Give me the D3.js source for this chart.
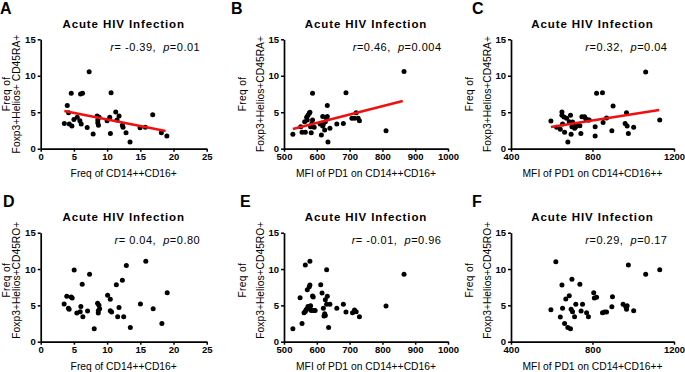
<!DOCTYPE html>
<html>
<head>
<meta charset="utf-8">
<script src="https://cdn.jsdelivr.net/npm/d3@7"></script>
<style>
  body { margin: 0; background: #fff; }
  svg { display: block; font-family: "Liberation Sans", Arial, sans-serif; }
</style>
</head>
<body>
<div id="chart"></div>
<script>
// values, [x, y]
const pointsA = [[3.56,3.47],[4.0,5.94],[4.2,4.94],[4.3,3.38],[4.6,7.6],[4.7,3.1],[5.0,4.0],[5.5,4.3],[5.9,3.84],[6.0,7.5],[6.3,7.6],[6.1,3.38],[7.0,2.9],[7.3,10.56],[7.9,2.0],[8.5,4.48],[8.6,3.93],[8.6,3.57],[8.7,3.2],[8.8,4.3],[10.0,3.84],[10.4,4.3],[10.5,2.1],[10.6,7.68],[11.3,5.03],[11.5,3.93],[11.8,4.48],[12.3,3.2],[12.4,2.93],[12.85,2.2],[13.45,0.91],[14.96,2.88],[15.76,2.93],[16.87,4.66],[18.17,2.19],[19.0,1.74]];
const pointsB = [[527,1.97],[551,3.0],[555,2.24],[565,2.24],[563,3.7],[569,4.3],[573,4.6],[577,4.85],[579,5.0],[571,3.93],[581,3.0],[583,2.2],[585,3.47],[587,3.93],[587,7.6],[592,2.93],[610,3.38],[614,1.87],[618,4.4],[618,3.1],[620,3.38],[624,2.56],[626,3.7],[630,4.16],[632,5.94],[632,4.4],[634,0.91],[640,2.79],[661,3.38],[681,3.47],[689,7.68],[707,4.16],[715,4.16],[720,4.94],[726,4.16],[730,3.84],[811,2.47],[866,10.6]];
const pointsC = [[596,3.8],[624,2.93],[642,2.65],[650,5.03],[650,4.57],[653,3.38],[660,4.34],[663,2.24],[673,4.16],[679,0.91],[686,3.7],[692,4.6],[695,1.97],[699,3.0],[702,3.66],[709,3.38],[712,2.79],[718,3.0],[722,3.25],[738,3.16],[743,2.1],[748,4.39],[761,4.39],[767,4.12],[778,3.93],[784,3.93],[813,1.74],[813,3.0],[820,7.6],[849,7.68],[852,3.6],[869,4.2],[895,2.47],[901,5.85],[960,3.47],[967,4.94],[970,3.1],[976,2.1],[1002,2.93],[1061,10.5],[1130,3.93]];
const pointsD = [[3.53,5.18],[3.93,6.24],[4.18,4.59],[4.28,4.45],[4.59,6.15],[4.74,6.0],[5.04,9.86],[5.44,3.94],[5.95,4.13],[6.05,4.86],[6.25,7.89],[6.35,3.44],[7.06,4.22],[7.36,9.27],[8.06,1.79],[8.57,5.28],[8.67,4.27],[8.67,3.94],[8.77,5.0],[8.87,4.54],[10.08,6.38],[10.48,5.83],[10.48,4.27],[10.68,4.08],[11.39,7.84],[11.59,3.44],[11.79,4.72],[12.3,8.44],[12.5,3.44],[12.9,10.5],[13.5,1.97],[15.02,5.18],[15.83,11.06],[16.94,4.54],[18.25,2.52],[19.05,6.74]];
const pointsE = [[527,1.79],[549,6.06],[555,2.52],[561,3.99],[565,4.17],[567,4.36],[569,4.45],[573,4.86],[577,4.59],[579,4.86],[571,7.16],[565,10.55],[579,11.06],[577,7.57],[579,7.8],[581,4.95],[583,4.31],[589,4.31],[595,4.31],[587,6.29],[589,6.15],[612,7.84],[616,6.7],[620,4.59],[622,3.53],[624,3.85],[626,3.62],[626,5.78],[632,6.24],[630,5.14],[630,9.9],[636,1.97],[640,5.14],[661,4.59],[681,5.14],[689,4.08],[709,3.99],[715,4.36],[720,4.13],[730,3.44],[811,4.91],[866,9.27]];
const pointsF = [[596,4.4],[620,11.0],[642,3.39],[650,7.8],[653,4.59],[663,2.52],[669,5.87],[679,1.97],[686,6.33],[692,1.79],[695,4.45],[699,8.58],[702,4.13],[712,3.44],[718,5.14],[738,7.89],[744,4.22],[751,5.14],[771,3.99],[780,3.44],[806,6.74],[809,6.0],[820,6.1],[849,3.99],[859,4.08],[869,4.08],[895,4.82],[898,6.2],[950,5.14],[963,4.86],[967,4.45],[970,4.95],[1002,4.27],[976,10.55],[1061,9.27],[1130,9.9]];

// regression lines (end points)
const fitA = [[3.56,5.17],[18.8,2.42]];
const fitB = [[527,2.7],[862,6.54]];
const fitC = [[596,2.97],[1127,5.3]];

const statsLabels = {
  A: ["r", "= -0.39,  ", "p", "=0.01"],
  B: ["r", "=0.46,  ", "p", "=0.004"],
  C: ["r", "=0.32,  ", "p", "=0.04"],
  D: ["r", "= 0.04,  ", "p", "=0.80"],
  E: ["r", "= -0.01,  ", "p", "=0.96"],
  F: ["r", "=0.29,  ", "p", "=0.17"]
};

const title = "Acute HIV Infection";
const freqTicks = [0, 5, 10, 15, 20, 25];
const mfiTicksB = [500, 600, 700, 800, 900, 1000];
const mfiTicksC = [400, 800, 1200];
const yTicks = [0, 5, 10, 15];
const xTitles = ["Freq of CD14++CD16+", "MFI of PD1 on CD14++CD16+", "MFI of PD1 on CD14+CD16++"];
const yTitleRA = ["Freq of", "Foxp3+Helios+ CD45RA+", "Foxp3+Helios+CD45RA+"];
const yTitleRO = ["Freq of", "Foxp3+Helios+CD45RO+"];

const width = 685, height = 372;
const svg = d3.select("#chart").append("svg")
  .attr("width", width)
  .attr("height", height);

// plot boxes per row / column
const rows = [{ top: 39.3, bottom: 148.7 }, { top: 232.7, bottom: 341.7 }];
const cols = [{ left: 40.7, right: 206.7 }, { left: 284, right: 448 }, { left: 511, right: 674 }];

const panels = [
  { id: "A", row: 0, col: 0, pts: pointsA, fit: fitA, xDom: [0, 25], xTicks: freqTicks, xTitle: xTitles[0], yTitle: [yTitleRA[0], yTitleRA[1]], gap: 31, lx: 0 },
  { id: "B", row: 0, col: 1, pts: pointsB, fit: fitB, xDom: [500, 1000], xTicks: mfiTicksB, xTitle: xTitles[1], yTitle: [yTitleRA[0], yTitleRA[2]], gap: 38.5, lx: 231 },
  { id: "C", row: 0, col: 2, pts: pointsC, fit: fitC, xDom: [400, 1200], xTicks: mfiTicksC, xTitle: xTitles[2], yTitle: [yTitleRA[0], yTitleRA[2]], gap: 38.5, lx: 472 },
  { id: "D", row: 1, col: 0, pts: pointsD, fit: null, xDom: [0, 25], xTicks: freqTicks, xTitle: xTitles[0], yTitle: yTitleRO, gap: 31, lx: 3 },
  { id: "E", row: 1, col: 1, pts: pointsE, fit: null, xDom: [500, 1000], xTicks: mfiTicksB, xTitle: xTitles[1], yTitle: yTitleRO, gap: 38.5, lx: 240 },
  { id: "F", row: 1, col: 2, pts: pointsF, fit: null, xDom: [400, 1200], xTicks: mfiTicksC, xTitle: xTitles[2], yTitle: yTitleRO, gap: 38.5, lx: 472 }
];

panels.forEach(p => {
  const r = rows[p.row], c = cols[p.col];
  const x = d3.scaleLinear().domain(p.xDom).range([c.left, c.right]);
  const y = d3.scaleLinear().domain([0, 15]).range([r.bottom, r.top]);
  const g = svg.append("g");

  // panel letter
  g.append("text")
    .attr("x", p.lx).attr("y", r.top - 25.5)
    .attr("font-size", 16).attr("font-weight", "bold")
    .text(p.id);

  // title
  g.append("text")
    .attr("x", (c.left + c.right) / 2).attr("y", r.top - 11.5)
    .attr("text-anchor", "middle")
    .attr("font-size", 11.5).attr("font-weight", "bold")
    .attr("letter-spacing", 0.9)
    .text(title);

  // axes
  const xAxis = g.append("g")
    .attr("transform", `translate(0,${r.bottom})`)
    .call(d3.axisBottom(x).tickValues(p.xTicks).tickFormat(d3.format("d"))
      .tickSize(3).tickSizeOuter(0).tickPadding(2));
  const yAxis = g.append("g")
    .attr("transform", `translate(${c.left},0)`)
    .call(d3.axisLeft(y).tickValues(yTicks).tickFormat(d3.format("d"))
      .tickSize(3).tickSizeOuter(0).tickPadding(2));
  [xAxis, yAxis].forEach(a => {
    a.select(".domain").attr("stroke", "#000").attr("stroke-width", 1.7);
    a.selectAll(".tick line").attr("stroke", "#000").attr("stroke-width", 1.5);
    a.selectAll(".tick text")
      .attr("font-family", "Liberation Sans, Arial, sans-serif")
      .attr("font-size", 9.5).attr("font-weight", "bold").attr("fill", "#000");
  });

  // axis titles
  g.append("text")
    .attr("x", (c.left + c.right) / 2).attr("y", r.bottom + 28.5)
    .attr("text-anchor", "middle")
    .attr("font-size", 10.3)
    .text(p.xTitle);

  const cy = (r.top + r.bottom) / 2 - (p.row === 1 ? 7 : 0);
  g.append("text")
    .attr("transform", `translate(${c.left - p.gap},${cy}) rotate(-90)`)
    .attr("text-anchor", "middle")
    .attr("font-size", 10.3).attr("letter-spacing", 0.3)
    .text(p.yTitle[0]);
  g.append("text")
    .attr("transform", `translate(${c.left - 20.5},${cy}) rotate(-90)`)
    .attr("text-anchor", "middle")
    .attr("font-size", 10.3)
    .text(p.yTitle[1]);

  // r / p statistics
  const st = g.append("text")
    .attr("x", c.right - 6.5).attr("y", r.top + 11.5)
    .attr("text-anchor", "end")
    .attr("font-size", 11).attr("letter-spacing", 0.5)
    .style("white-space", "pre");
  statsLabels[p.id].forEach((s, i) => {
    st.append("tspan").attr("font-style", i % 2 === 0 ? "italic" : "normal").text(s);
  });

  // points
  g.append("g").selectAll("circle")
    .data(p.pts)
    .join("circle")
    .attr("cx", d => x(d[0]))
    .attr("cy", d => y(d[1]))
    .attr("r", 2.5)
    .attr("fill", "#000");

  // regression line
  if (p.fit) {
    g.append("line")
      .attr("x1", x(p.fit[0][0])).attr("y1", y(p.fit[0][1]))
      .attr("x2", x(p.fit[1][0])).attr("y2", y(p.fit[1][1]))
      .attr("stroke", "#f01010").attr("stroke-width", 2.5);
  }
});
</script>
</body>
</html>
